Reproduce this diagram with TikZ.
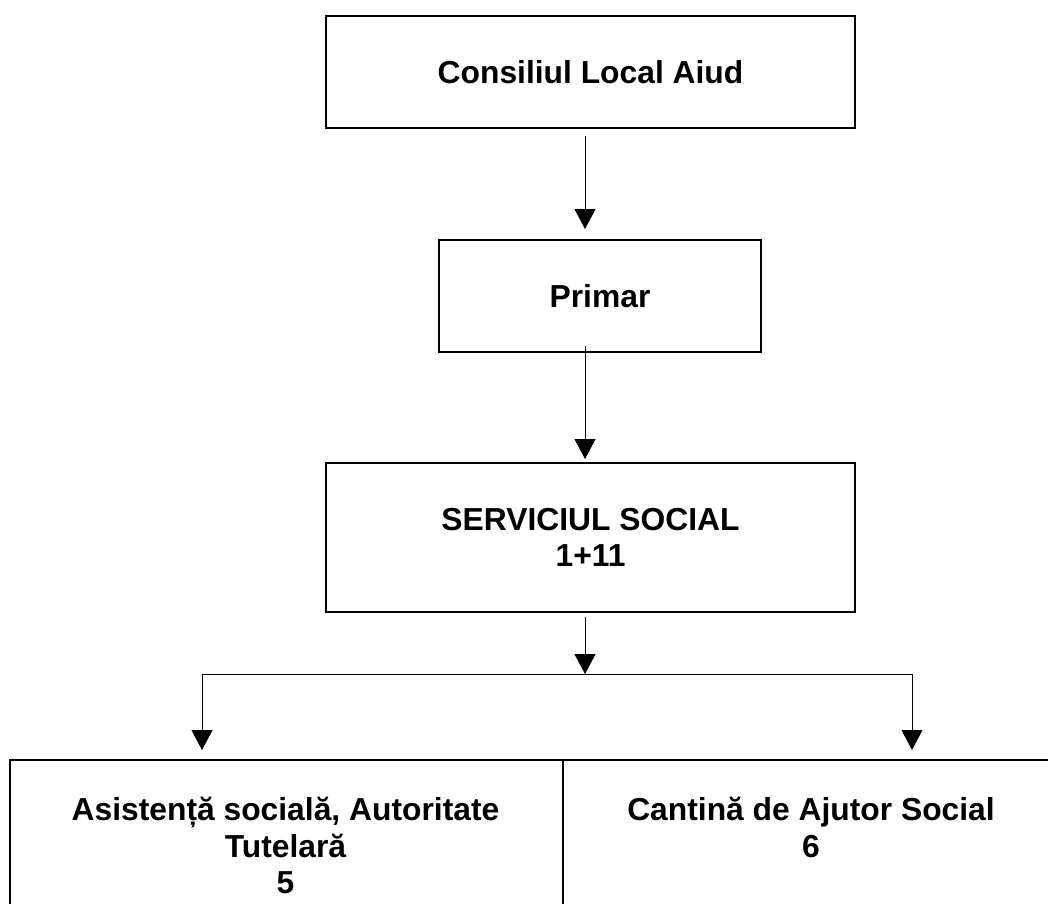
\documentclass[tikz,border=0pt]{standalone}
\usepackage{fontspec}
\setmainfont{Liberation Sans}
\usetikzlibrary{arrows.meta}
\newcommand\txtfont{\fontsize{31.8}{36.6}\selectfont\bfseries}
\begin{document}
\begin{tikzpicture}[x=1pt,y=-1pt,
  box/.style={draw, line width=2pt, rectangle, inner sep=0pt, align=center, font=\txtfont},
  lbl/.style={font=\txtfont, align=center, inner sep=0pt, anchor=north},
  arr/.style={line width=1pt, -{Triangle[width=21pt,length=20pt]}},
  conn/.style={line width=1pt}]
\useasboundingbox (0,0) rectangle (1048,903);
\begin{scope}
\clip (0,0) rectangle (1048,903);
\node[box, minimum width=529pt, minimum height=112pt] (cl) at (590.5,72) {Consiliul Local Aiud};
\node[box, minimum width=322pt, minimum height=112pt] (pr) at (600,296) {Primar};
\node[box, minimum width=529pt, minimum height=149pt] (ss) at (590.5,537.5) {SERVICIUL SOCIAL\\1+11};
\node[box, anchor=north west, minimum width=553pt, minimum height=250pt] (as) at (9,759) {};
\node[box, anchor=north west, minimum width=498pt, minimum height=250pt] (ca) at (562,759) {};
\node[lbl] (ast) at (285.5,797) {Asistență socială, Autoritate\\Tutelară\\5};
\node[lbl] (cat) at (811,797) {Cantină de Ajutor Social\\6};
\end{scope}
\coordinate (xa) at (585,0);
\coordinate (jM) at (585,674);
\coordinate (jL) at (202,674);
\coordinate (jR) at (912,674);
\draw[arr, shorten <=7pt, shorten >=10pt] (cl.south -| xa) -- (pr.north -| xa);
\draw[arr, shorten <=-7pt, shorten >=3pt] (pr.south -| xa) -- (ss.north -| xa);
\draw[arr, shorten <=4pt] (ss.south -| xa) -- (jM);
\draw[conn] (jL) -- (jR);
\draw[arr, shorten >=9pt] (jL) -- (as.north -| jL);
\draw[arr, shorten >=9pt] (jR) -- (ca.north -| jR);
\end{tikzpicture}
\end{document}
